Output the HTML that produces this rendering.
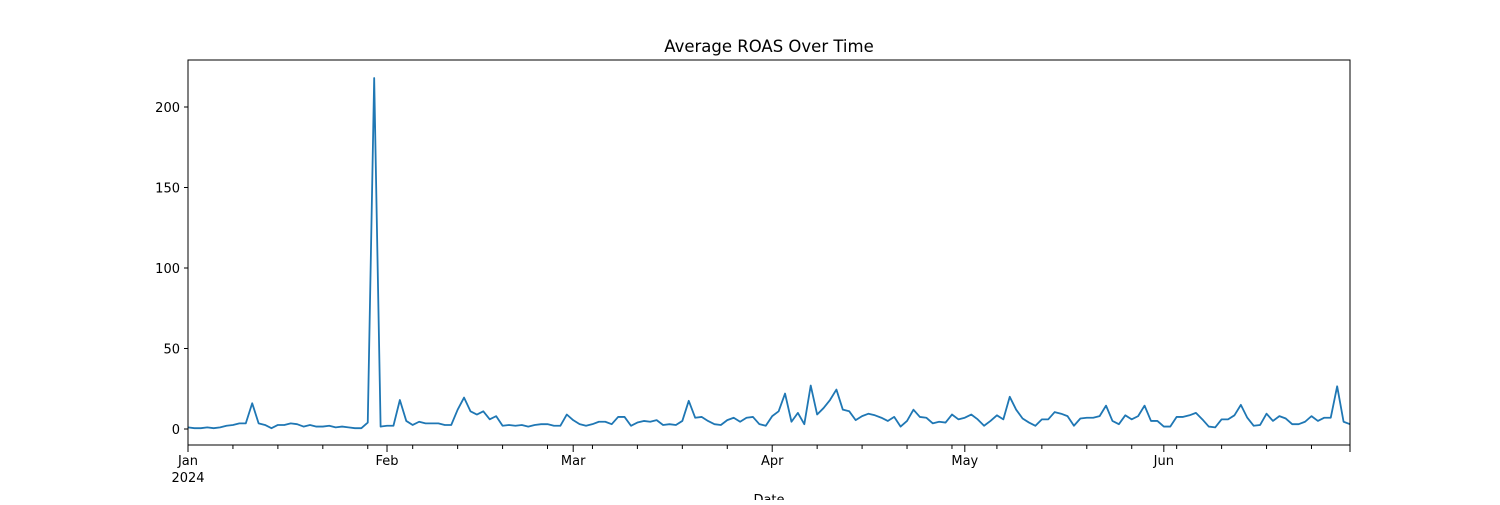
<!DOCTYPE html>
<html><head><meta charset="utf-8"><style>
body{margin:0;background:#fff;}
svg text{font-family:"DejaVu Sans","Liberation Sans",sans-serif;fill:#000;}
</style></head><body>
<svg id="chart" width="1500" height="500" xmlns="http://www.w3.org/2000/svg">
<rect width="1500" height="500" fill="#fff"/>
<text x="769" y="52" font-size="16.5" text-anchor="middle">Average ROAS Over Time</text>
<text x="769" y="504" font-size="13" text-anchor="middle">Date</text>
<g id="plot"></g>
</svg>
<script>
const yTicks=[0,50,100,150,200];
const monthLabels=["Jan","Feb","Mar","Apr","May","Jun"];
const monthStarts=[0,31,60,91,121,152];
const roasJan=[1,0.5,0.5,1,0.5,1,2,2.5,3.5,3.5,16,3.5,2.5,0.5,2.5,2.5,3.5,3,1.5,2.5,1.5,1.5,2,1,1.5,1,0.5,0.5,4,218,1.5];
const roasFeb=[2,2,18,5,2.5,4.5,3.5,3.5,3.5,2.5,2.5,12,19.5,11,9,11,6,8,2,2.5,2,2.5,1.5,2.5,3,3,2,2,9];
const roasMar=[5.5,3,2,3,4.5,4.5,3,7.5,7.5,2,4,5,4.5,5.5,2.5,3,2.5,5,17.5,7,7.5,5,3,2.5,5.5,7,4.5,7,7.5,3,2];
const roasApr=[8,11,22,4.5,10,3,27,9,13,18,24.5,12,11,5.5,8,9.5,8.5,7,5,7.5,1.5,5,12,7.5,7,3.5,4.5,4,9,6];
const roasMay=[7,9,6,2,5,8.5,6,20,12,6.5,4,2,6,6,10.5,9.5,8,2,6.5,7,7,8,14.5,5,3,8.5,6,8,14.5,5,5];
const roasJun=[1.5,1.5,7.5,7.5,8.5,10,6,1.5,1,6,6,8.5,15,7,2,2.5,9.5,5,8,6.5,3,3,4.5,8,5,7,7,26.5,4.5,3];
const values=[].concat(roasJan,roasFeb,roasMar,roasApr,roasMay,roasJun);
const L=188,R=1350,T=60,B=445;
const nDays=182;
const xScale=d=>L+(R-L)*d/(nDays-1);
const yMin=-9.94,yMax=229.2;
const yScale=v=>B-(B-T)*(v-yMin)/(yMax-yMin);
const ns="http://www.w3.org/2000/svg";
const g=document.getElementById('plot');
function mk(tag,attrs){const e=document.createElementNS(ns,tag);for(const k in attrs)e.setAttribute(k,attrs[k]);g.appendChild(e);return e;}
let d=values.map((v,i)=>(i?'L':'M')+xScale(i).toFixed(2)+','+yScale(v).toFixed(2)).join('');
const line=mk('path',{d:d,fill:'none',stroke:'#1f77b4','stroke-width':1.8,'stroke-linejoin':'round'});


const frame=mk('rect',{x:L,y:T,width:R-L,height:B-T,fill:'none',stroke:'#000','stroke-width':1});


yTicks.forEach(t=>{const y=yScale(t);
 mk('line',{x1:L-4,x2:L,y1:y,y2:y,stroke:'#000'});
 const tx=mk('text',{x:L-8,y:y+5,'font-size':13,'text-anchor':'end'});tx.textContent=t;
 
 
});
monthStarts.forEach((m,i)=>{const x=xScale(m);
 mk('line',{x1:x,x2:x,y1:B,y2:B+7,stroke:'#000'});
 const tx=mk('text',{x:x,y:B+20,'font-size':13,'text-anchor':'middle'});tx.textContent=monthLabels[i];
 
 
});
mk('line',{x1:R,x2:R,y1:B,y2:B+7,stroke:'#000'});
const yr=mk('text',{x:xScale(0),y:B+37,'font-size':13,'text-anchor':'middle'});yr.textContent='2024';


for(let k=7;k<nDays;k+=7){if(monthStarts.includes(k))continue;const x=xScale(k);
 mk('line',{x1:x,x2:x,y1:B,y2:B+4,stroke:'#000'});}
</script>
</body></html>
